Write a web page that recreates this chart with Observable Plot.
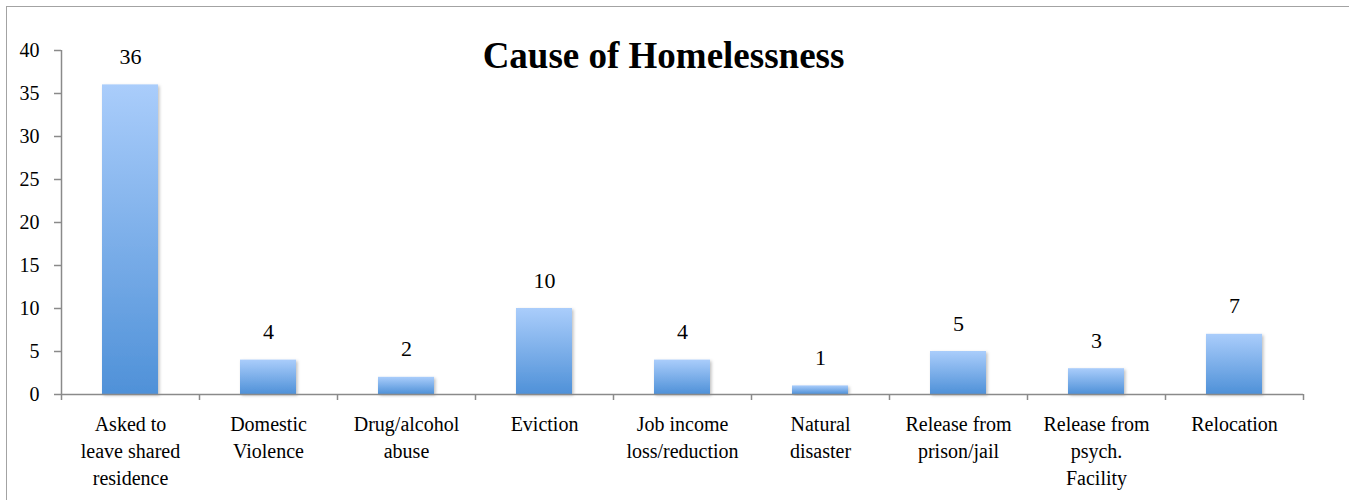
<!DOCTYPE html>
<html>
<head>
<meta charset="utf-8">
<script src="https://cdn.jsdelivr.net/npm/d3@7"></script>
<script src="https://cdn.jsdelivr.net/npm/@observablehq/plot@0.6"></script>
<style>
  html, body { margin: 0; padding: 0; background: #fff; }
  #wrap { position: relative; width: 1349px; height: 500px; overflow: hidden; }
  #border { position: absolute; left: 6px; top: 6px; width: 1400px; height: 600px;
            border-left: 1.5px solid #a3a3a3; border-top: 1.5px solid #a3a3a3; pointer-events: none; }
  #wrap svg { position: absolute; left: 0; top: 0; display: block; }
</style>
</head>
<body>
<div id="wrap"><div id="border"></div></div>
<script>
const title = "Cause of Homelessness";
const categories = [
  "Asked to\nleave shared\nresidence",
  "Domestic\nViolence",
  "Drug/alcohol\nabuse",
  "Eviction",
  "Job income\nloss/reduction",
  "Natural\ndisaster",
  "Release from\nprison/jail",
  "Release from\npsych.\nFacility",
  "Relocation"
];
const values = [36, 4, 2, 10, 4, 1, 5, 3, 7];
const yTicks = [0, 5, 10, 15, 20, 25, 30, 35, 40];

const data = categories.map((c, i) => ({idx: i, label: c, value: values[i]}));
const font = "Liberation Serif, Times New Roman, serif";

const chart = Plot.plot({
  width: 1349,
  height: 500,
  marginLeft: 61,
  marginRight: 46,
  marginTop: 50,
  marginBottom: 106,
  style: {background: "transparent", color: "black"},
  x: {domain: [0, categories.length], axis: null},
  y: {domain: [0, 40], axis: null},
  marks: [
    Plot.rectY(data, {
      x1: d => d.idx, x2: d => d.idx + 1, y: "value",
      insetLeft: 41, insetRight: 41,
      fill: "#6fa6e6"
    }),
    Plot.ruleX([0], {stroke: "#8a8a8a", strokeWidth: 1.5}),
    Plot.ruleY([0], {stroke: "#8a8a8a", strokeWidth: 1.5}),
    Plot.axisY({ticks: yTicks, tickSize: 7, tickPadding: 15, stroke: "#8a8a8a", strokeWidth: 1.5,
                fill: "black", fontSize: 20, fontFamily: font, label: null}),
    Plot.axisX({ticks: d3.range(categories.length + 1), tickFormat: () => "", tickSize: 6,
                stroke: "#8a8a8a", strokeWidth: 1.5, label: null}),
    Plot.text(data, {
      x: d => d.idx + 0.5, y: "value", text: d => String(d.value),
      lineAnchor: "bottom", dy: -21, fontSize: 22, fontFamily: font, fill: "black"
    }),
    Plot.text(data, {
      x: d => d.idx + 0.5, y: 0, text: "label",
      lineAnchor: "top", dy: 18, fontSize: 20, fontFamily: font, lineHeight: 1.33, fill: "black"
    }),
    Plot.text([title], {
      frameAnchor: "top", text: d => d, dx: -19, dy: -9, lineAnchor: "top",
      fontSize: 37, fontWeight: "bold", fontFamily: font, fill: "black"
    })
  ]
});

const svg = d3.select(chart);
chart.removeAttribute("class");
svg.selectAll("style").remove();
svg.attr("font-family", font);
chart.style.setProperty("font-family", font, "important");
svg.selectAll("g, text, tspan").each(function () {
  this.setAttribute("font-family", font);
  this.style.setProperty("font-family", font, "important");
});

// gradient + soft shadow for the bars
const defs = svg.insert("defs", ":first-child");
const g = defs.append("linearGradient").attr("id", "barGrad")
  .attr("x1", 0).attr("y1", 0).attr("x2", 0).attr("y2", 1);
g.append("stop").attr("offset", "0%").attr("stop-color", "#aacdfb");
g.append("stop").attr("offset", "100%").attr("stop-color", "#4f91d8");
const f = defs.append("filter").attr("id", "barShadow")
  .attr("x", "-20%").attr("y", "-20%").attr("width", "140%").attr("height", "140%");
f.append("feDropShadow").attr("dx", 1.5).attr("dy", 1.5).attr("stdDeviation", 1.5)
  .attr("flood-color", "#000").attr("flood-opacity", 0.25);
svg.selectAll("g[aria-label='rect'] rect")
  .attr("fill", "url(#barGrad)")
  .attr("filter", "url(#barShadow)");

document.getElementById("wrap").appendChild(chart);
</script>
</body>
</html>
